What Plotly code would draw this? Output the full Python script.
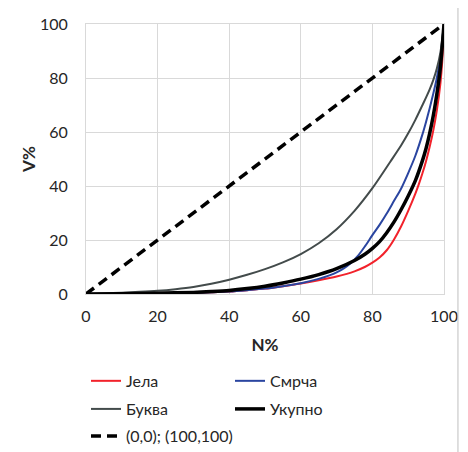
import plotly.graph_objects as go

# N% values (x) and V% values (y) per series
x_jela = [0, 10, 20, 30, 40, 45, 50, 55, 60, 65, 70, 75, 78, 80, 82, 84, 86, 88, 90, 92, 93, 94, 95, 96, 97, 98, 99, 99.5, 100]
y_jela = [0, 0.1, 0.2, 0.4, 0.9, 1.4, 2.0, 2.9, 3.9, 5.1, 6.5, 8.4, 10.1, 11.6, 13.5, 16.2, 20.1, 25, 30.8, 37.2, 40.8, 44.8, 49.3, 54.5, 60.5, 68, 78, 86, 100]

x_smrca = [0, 10, 20, 30, 40, 45, 50, 55, 60, 65, 68, 70, 72, 74, 76, 78, 80, 82, 84, 86, 88, 90, 92, 94, 95, 96, 97, 98, 99, 100]
y_smrca = [0, 0.1, 0.2, 0.4, 0.9, 1.4, 2.0, 2.9, 4.0, 5.6, 6.9, 8.0, 9.5, 11.5, 14.2, 17.8, 21.8, 25.6, 29.8, 34.4, 39, 44.8, 51.2, 59.2, 63.8, 68.8, 74.2, 80, 88, 100]

x_bukva = [0, 5, 10, 15, 20, 25, 30, 35, 40, 45, 50, 55, 60, 65, 70, 75, 80, 85, 88, 90, 92, 94, 95, 96, 97, 98, 99, 100]
y_bukva = [0, 0.2, 0.5, 0.8, 1.2, 1.8, 2.6, 3.8, 5.3, 7.1, 9.2, 11.7, 14.8, 18.8, 24, 30.8, 39.2, 49, 55, 59.5, 64.5, 70, 72.8, 75.8, 79.2, 83.5, 89.5, 100]

x_ukupno = [0, 10, 20, 30, 35, 40, 45, 50, 55, 60, 65, 70, 75, 78, 80, 82, 84, 86, 88, 90, 92, 94, 95, 96, 97, 98, 99, 100]
y_ukupno = [0, 0.1, 0.3, 0.6, 0.9, 1.3, 2.0, 2.9, 4.1, 5.5, 7.2, 9.4, 12.4, 14.8, 16.9, 19.4, 22.7, 26.6, 31.2, 36.3, 42, 49.5, 54, 59.5, 66, 74, 84, 100]

x_diag = [0, 100]
y_diag = [0, 100]

x_ticks = [0, 20, 40, 60, 80, 100]
y_ticks = [0, 20, 40, 60, 80, 100]

FONT = "Lato"
TXT = "#262626"
SM = 0.8

fig = go.Figure()
fig.add_trace(go.Scatter(x=x_jela, y=y_jela, mode="lines", name="Јела", legend="legend",
                         line=dict(color="#f2222b", width=2, shape="spline", smoothing=SM)))
fig.add_trace(go.Scatter(x=x_smrca, y=y_smrca, mode="lines", name="Смрча", legend="legend",
                         line=dict(color="#2a45a0", width=2, shape="spline", smoothing=SM)))
fig.add_trace(go.Scatter(x=x_bukva, y=y_bukva, mode="lines", name="Буква", legend="legend2",
                         line=dict(color="#434b4b", width=2, shape="spline", smoothing=SM)))
fig.add_trace(go.Scatter(x=x_ukupno, y=y_ukupno, mode="lines", name="Укупно", legend="legend2",
                         line=dict(color="#000000", width=3.5, shape="spline", smoothing=SM)))
fig.add_trace(go.Scatter(x=x_diag, y=y_diag, mode="lines", name="(0,0); (100,100)", legend="legend3",
                         line=dict(color="#000000", width=3.5, dash="10px,6px")))

axis_common = dict(
    range=[0, 100], showgrid=True, gridcolor="#d9d9d9", gridwidth=1,
    showline=True, linecolor="#d9d9d9", linewidth=1, mirror=True, automargin=False,
    zeroline=False, ticks="", tickfont=dict(family=FONT, size=16, color=TXT),
)

leg_common = dict(orientation="h", xanchor="left", yanchor="top", x=0.0,
                  font=dict(family=FONT, size=16, color=TXT),
                  bgcolor="rgba(0,0,0,0)")

# page body has an 8px margin, so the figure is 8px smaller than the window
fig.update_layout(
    width=460, height=444,
    margin=dict(l=78, r=24, t=16, b=158, autoexpand=False),
    paper_bgcolor="white", plot_bgcolor="white",
    font=dict(family=FONT, size=16, color=TXT),
    xaxis=dict(**axis_common, tickvals=x_ticks, ticklabelstandoff=8,
               title=dict(text="<b>N%</b>", font=dict(family=FONT, size=17, color=TXT), standoff=14)),
    yaxis=dict(**axis_common, tickvals=y_ticks, ticklabelstandoff=14,
               title=dict(text="<b>V%</b>", font=dict(family=FONT, size=17, color=TXT), standoff=0)),
    legend=dict(**leg_common, y=-0.259, entrywidth=99),
    legend2=dict(**leg_common, y=-0.363, entrywidth=99),
    legend3=dict(**leg_common, y=-0.463, entrywidth=200),
    showlegend=True,
    shapes=[dict(type="rect", xref="paper", yref="paper",
                 x0=-0.229, x1=1.039, y0=-0.62, y1=1.063,
                 line=dict(color="#bfbfbf", width=1), fillcolor="rgba(0,0,0,0)", layer="above")],
)

fig.write_html("out.html")
